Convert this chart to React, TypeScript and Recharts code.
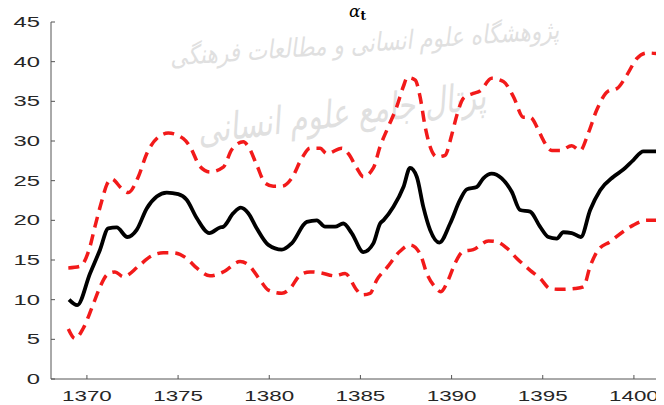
import { Line, LineChart, XAxis, YAxis } from "recharts";

// posterior mean of alpha_t
const meanYears = [
  1369.02, 1369.47, 1370.17, 1370.72, 1371.17, 1371.63, 1372.22, 1372.73, 1373.28, 1373.83,
  1374.38, 1375.01, 1375.47, 1376.02, 1376.71, 1377.3, 1377.48, 1378.03, 1378.44, 1378.85,
  1379.31, 1379.95, 1380.69, 1381.23, 1382.06, 1382.61, 1383.06, 1383.61, 1384.06, 1384.52,
  1385.16, 1385.71, 1386.08, 1386.26, 1386.81, 1387.36, 1387.72, 1388.09, 1388.45, 1388.82,
  1389.33, 1389.92, 1390.47, 1390.83, 1391.38, 1391.74, 1392.2, 1392.75, 1393.3, 1393.76,
  1394.31, 1394.85, 1395.31, 1395.77, 1396.13, 1396.59, 1397.09, 1397.6, 1398.15, 1398.88,
  1399.42, 1399.97, 1400.52, 1401.62,
];
const meanValues = [
  10.0, 9.3, 13.3, 16.3, 19.0, 19.1, 17.9, 18.8, 21.5, 23.0,
  23.5, 23.3, 22.6, 20.3, 18.4, 19.1, 19.2, 20.9, 21.6, 20.9,
  19.0, 16.9, 16.3, 17.1, 19.8, 20.0, 19.2, 19.2, 19.6, 18.4,
  16.0, 17.1, 19.6, 20.0, 21.7, 24.2, 26.6, 25.5, 21.7, 18.8,
  17.2, 19.6, 22.6, 23.9, 24.2, 25.3, 25.9, 25.3, 23.6, 21.3,
  21.1, 19.2, 17.9, 17.7, 18.5, 18.4, 17.9, 21.3, 23.8, 25.5,
  26.4, 27.6, 28.7, 28.7,
];

// upper band
const upperYears = [
  1368.98, 1369.62, 1370.17, 1370.44, 1370.81, 1371.09, 1371.36, 1371.91, 1372.27, 1372.82,
  1373.28, 1373.92, 1374.46, 1375.29, 1375.65, 1376.2, 1376.75, 1377.48, 1377.94, 1378.58,
  1378.85, 1379.31, 1379.77, 1380.22, 1380.69, 1381.23, 1381.78, 1382.24, 1382.79, 1383.15,
  1383.98, 1384.34, 1384.8, 1385.16, 1385.71, 1386.08, 1386.53, 1386.99, 1387.36, 1387.57,
  1388.0, 1388.27, 1388.55, 1388.82, 1389.19, 1389.64, 1390.01, 1390.32, 1390.65, 1391.19,
  1391.56, 1392.2, 1392.84, 1393.39, 1393.94, 1394.31, 1394.76, 1395.03, 1395.5, 1395.95,
  1396.59, 1397.05, 1397.5, 1397.96, 1398.6, 1399.06, 1399.61, 1400.16, 1400.71, 1401.62,
];
const upperValues = [
  14.0, 14.2, 16.7, 19.2, 22.4, 24.5, 25.2, 24.0, 23.5, 25.5,
  28.4, 30.5, 31.0, 30.3, 29.3, 26.8, 26.1, 26.7, 28.9, 29.9,
  29.3, 27.0, 24.7, 24.3, 24.3, 25.3, 27.8, 29.1, 29.1, 28.4,
  29.1, 28.4, 26.6, 25.5, 26.6, 29.3, 31.8, 34.3, 36.9, 38.0,
  37.7, 35.6, 31.8, 29.3, 28.0, 28.2, 30.8, 33.5, 35.4, 36.0,
  36.3, 37.9, 37.5, 35.6, 33.0, 33.0, 31.4, 30.1, 28.8, 28.8,
  29.4, 28.8, 31.0, 33.9, 36.3, 36.6, 38.3, 40.4, 41.1, 40.9,
];

// lower band
const lowerYears = [
  1368.98, 1369.35, 1369.8, 1370.26, 1370.72, 1371.09, 1371.54, 1372.0, 1372.82, 1373.46,
  1374.19, 1374.74, 1375.47, 1376.02, 1376.75, 1377.48, 1378.4, 1378.85, 1379.49, 1379.95,
  1380.69, 1381.14, 1381.69, 1382.24, 1382.79, 1383.61, 1384.16, 1384.8, 1385.07, 1385.53,
  1385.9, 1386.44, 1387.17, 1387.72, 1388.27, 1388.64, 1389.09, 1389.41, 1389.82, 1390.19,
  1390.65, 1391.19, 1392.02, 1392.48, 1393.03, 1393.58, 1394.31, 1394.85, 1395.4, 1395.95,
  1396.77, 1397.23, 1397.6, 1398.05, 1398.69, 1399.42, 1399.97, 1400.71, 1401.62,
];
const lowerValues = [
  6.3, 5.1, 6.4, 8.9, 11.6, 13.1, 13.5, 12.9, 14.2, 15.4,
  15.9, 15.9, 15.2, 14.0, 13.0, 13.5, 14.8, 14.4, 12.5, 11.2,
  10.8, 11.4, 13.1, 13.5, 13.4, 13.0, 13.3, 11.2, 10.6, 10.8,
  12.5, 14.0, 16.1, 16.9, 15.8, 13.3, 11.6, 11.0, 12.5, 14.6,
  16.1, 16.3, 17.4, 17.3, 16.5, 15.2, 13.7, 12.7, 11.4, 11.3,
  11.4, 11.6, 14.2, 16.3, 17.3, 18.6, 19.4, 20.0, 20.0,
];

const xTicks = [1370, 1375, 1380, 1385, 1390, 1395, 1400];
const yTicks = [0, 5, 10, 15, 20, 25, 30, 35, 40, 45];

const zip = (xs: number[], ys: number[]) => xs.map((year, i) => ({ year, v: ys[i] }));
const meanData = zip(meanYears, meanValues);
const upperData = zip(upperYears, upperValues);
const lowerData = zip(lowerYears, lowerValues);

const tickFont = "'Liberation Sans', Arial, sans-serif";

function XTick({ x, y, payload }: any) {
  return (
    <g transform={`translate(${x},${y})`}>
      <text transform="scale(1.6,1)" y={22} textAnchor="middle" fontSize={14} fontFamily={tickFont} fill="#262626">
        {payload.value}
      </text>
    </g>
  );
}

function YTick({ x, y, payload }: any) {
  return (
    <g transform={`translate(${x},${y})`}>
      <text transform="scale(1.7,1)" y={5} textAnchor="end" fontSize={14} fontFamily={tickFont} fill="#262626">
        {payload.value}
      </text>
    </g>
  );
}

const layer = { position: "absolute" as const, left: 0, top: 0 };

export default function App() {
  return (
    <div style={{ position: "relative", width: 656, height: 397 }}>
      {/* watermark behind the chart */}
      <svg width={656} height={397} style={layer}>
        <g fill="#e0e0e0" fontFamily="'DejaVu Sans', sans-serif" fontStyle="italic">
          <text
            x={357}
            y={44}
            fontSize={26}
            textAnchor="middle"
            direction="rtl"
            textLength={390}
            lengthAdjust="spacingAndGlyphs"
            transform="rotate(-4 357 44)"
          >
            پژوهشگاه علوم انسانی و مطالعات فرهنگی
          </text>
          <text
            x={335}
            y={118}
            fontSize={38}
            textAnchor="middle"
            direction="rtl"
            textLength={290}
            lengthAdjust="spacingAndGlyphs"
            transform="rotate(-7 335 118)"
          >
            پرتال جامع علوم انسانی
          </text>
        </g>
      </svg>
      <div style={layer}>
        <LineChart width={656} height={397} margin={{ top: 14, right: 0, bottom: 0, left: 0 }}>
          <XAxis
            type="number"
            dataKey="year"
            domain={[1368.03, 1401.65]}
            ticks={xTicks}
            allowDataOverflow
            height={26}
            tickSize={-4}
            tickMargin={4}
            tick={<XTick />}
            stroke="#555"
            interval={0}
          />
          <YAxis
            type="number"
            domain={[0, 45]}
            ticks={yTicks}
            width={43}
            tickSize={-4}
            tickMargin={15}
            tick={<YTick />}
            stroke="#555"
            interval={0}
          />
          <Line data={upperData} dataKey="v" type="monotone" stroke="#f21a1a" strokeWidth={3.5} strokeDasharray="11 7" dot={false} isAnimationActive={false} />
          <Line data={lowerData} dataKey="v" type="monotone" stroke="#f21a1a" strokeWidth={3.5} strokeDasharray="11 7" dot={false} isAnimationActive={false} />
          <Line data={meanData} dataKey="v" type="monotone" stroke="#000" strokeWidth={3.8} dot={false} isAnimationActive={false} />
        </LineChart>
      </div>
      {/* title, reaching up into the body margin */}
      <svg width={656} height={40} style={{ position: "absolute", left: 0, top: -8, overflow: "visible" }}>
        <text x={341} y={17} fontFamily="'DejaVu Serif', serif" fill="#000">
          <tspan fontSize={17} fontStyle="italic">α</tspan>
          <tspan fontSize={12} fontWeight="bold" dy={3}>t</tspan>
        </text>
      </svg>
    </div>
  );
}
